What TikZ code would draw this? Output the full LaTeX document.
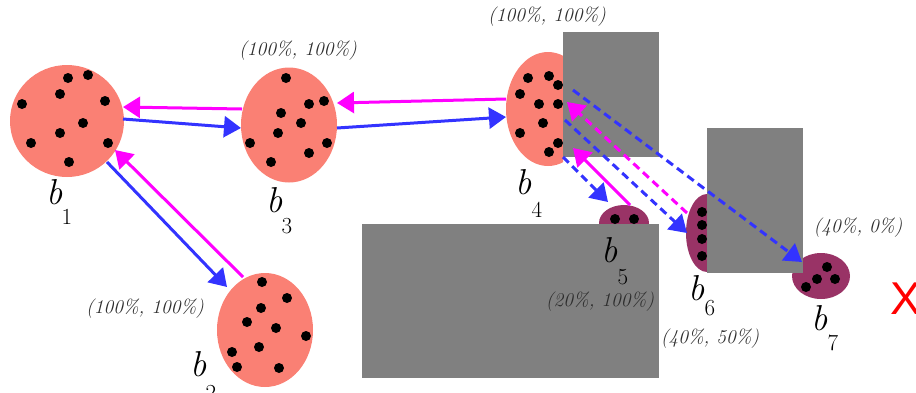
\documentclass[tikz,border=0pt]{standalone}
\usepackage{fontspec}
\newfontfamily\xfont{Liberation Sans}
\usetikzlibrary{arrows.meta,shapes.geometric}
\definecolor{salmonc}{RGB}{250,128,116}
\definecolor{maroonc}{RGB}{153,51,102}
\definecolor{greyc}{RGB}{128,128,128}
\definecolor{bluec}{RGB}{51,51,255}
\definecolor{magc}{RGB}{255,0,255}
\definecolor{labc}{RGB}{45,45,45}
\tikzset{
  blob/.style={ellipse, fill=salmonc, inner sep=0pt},
  mblob/.style={ellipse, fill=maroonc, inner sep=0pt},
  dot/.style={circle, fill=black, inner sep=0pt, minimum size=10pt},
  obst/.style={fill=greyc},
  sol/.style={line width=3pt, -{Triangle[length=17pt,width=21pt]}},
  dsh/.style={line width=3pt, dash pattern=on 8pt off 5pt, -{Triangle[length=17pt,width=21pt]}},
  bl/.style={inner sep=0pt, font=\fontsize{36}{36}\selectfont\itshape},
  sub/.style={inner sep=0pt, font=\fontsize{23}{23}\selectfont},
  pct/.style={inner sep=0pt, text=labc, font=\fontsize{19.5}{19.5}\selectfont\itshape},
}
\begin{document}
\begin{tikzpicture}[x=1pt,y=-1pt]
\useasboundingbox (0,0) rectangle (916,392);
% blobs
\node[blob, minimum width=114pt, minimum height=112pt] (b1) at (67,121) {};
\node[blob, minimum width=96pt, minimum height=115pt] (b3) at (289,125) {};
\node[blob, minimum width=96pt, minimum height=114pt] (b2) at (265,330) {};
\begin{scope}
\clip (400,0) rectangle (563,200);
\node[blob, minimum width=84pt, minimum height=114pt] (b4) at (548,109) {};
\end{scope}
\begin{scope}
\clip (590,190) rectangle (660,224);
\node[mblob, minimum width=50pt, minimum height=36pt] (b5) at (624,223) {};
\end{scope}
\begin{scope}
\clip (670,180) rectangle (707,290);
\node[mblob, minimum width=42pt, minimum height=78pt] (b6) at (707,233) {};
\end{scope}
\node[mblob, minimum width=58pt, minimum height=46pt] (b7) at (821,276) {};
% obstacles
\fill[obst] (563,32) rectangle (659,157);
\fill[obst] (707,128) rectangle (803,273);
\fill[obst] (362,224) rectangle (659,378);
% dots
\foreach \p [count=\i] in {(68,78),(88,75),(60,94),(105,101),(22,104),(83,123),(60,133),(31,143),(108,143),(69,162)}
  \node[dot] (da\i) at \p {};
\foreach \p [count=\i] in {(286,78),(309,104),(324,101),(281,113),(301,123),(278,133),(250,143),(327,143),(309,153),(271,162)}
  \node[dot] (dc\i) at \p {};
\foreach \p [count=\i] in {(262,282),(287,298),(261,308),(247,322),(276,328),(306,336),(259,347),(232,352),(237,367),(279,368)}
  \node[dot] (db\i) at \p {};
\foreach \p [count=\i] in {(528,78),(549,76),(558,85),(520,94),(539,104),(558,104),(543,123),(520,133),(558,143),(549,152)}
  \node[dot] (dd\i) at \p {};
\foreach \p [count=\i] in {(615,219),(634,219)}
  \node[dot] (de\i) at \p {};
\foreach \p [count=\i] in {(702,212),(702,225),(702,239),(702,256)}
  \node[dot] (df\i) at \p {};
\foreach \p [count=\i] in {(806,287),(817,279),(827,267),(835,279)}
  \node[dot] (dg\i) at \p {};
% arrow end points
\coordinate (p1) at (242,109); \coordinate (p2) at (123,107);
\coordinate (p3) at (123,119); \coordinate (p4) at (241,128);
\coordinate (p5) at (107,162); \coordinate (p6) at (227,287);
\coordinate (p7) at (243,277); \coordinate (p8) at (115,150);
\coordinate (p9) at (506,99);  \coordinate (p10) at (337,103);
\coordinate (p11) at (337,128); \coordinate (p12) at (506,117);
\coordinate (q1) at (573,90);  \coordinate (q2) at (802,262);
\coordinate (q3) at (565,120); \coordinate (q4) at (687,233);
\coordinate (q5) at (687,213); \coordinate (q6) at (567,102);
\coordinate (q7) at (563,157); \coordinate (q8) at (608,202);
\coordinate (q9) at (630,205); \coordinate (q10) at (573,148);
% arrows
\draw[sol, magc] (p1) -- (p2);
\draw[sol, bluec] (p3) -- (p4);
\draw[sol, bluec] (p5) -- (p6);
\draw[sol, magc] (p7) -- (p8);
\draw[sol, magc] (p9) -- (p10);
\draw[sol, bluec] (p11) -- (p12);
\draw[dsh, bluec] (q1) -- (q2);
\draw[dsh, bluec] (q3) -- (q4);
\draw[dsh, magc] (q5) -- (q6);
\draw[dsh, bluec] (q7) -- (q8);
\draw[sol, magc] (q9) -- (q10);
% labels
\node[bl] (lb1) at (55,192) {b};  \node[sub] (s1) at (67,217) {1};
\node[bl] (lb3) at (275,200) {b}; \node[sub] (s3) at (287,226) {3};
\node[bl] (lb2) at (199,364) {b}; \node[sub] (s2) at (211,393) {2};
\node[bl] (lb4) at (524,182) {b}; \node[sub] (s4) at (537,210) {4};
\node[bl] (lb5) at (610,250) {b}; \node[sub] (s5) at (623,277) {5};
\node[bl] (lb6) at (697,288) {b}; \node[sub] (s6) at (710,308) {6};
\node[bl] (lb7) at (820,318) {b}; \node[sub] (s7) at (833,343) {7};
\node[pct] (t3) at (298,51) {(100\%, 100\%)};
\node[pct] (t4) at (547,17) {(100\%, 100\%)};
\node[pct] (t2) at (145,309) {(100\%, 100\%)};
\node[pct] (t5) at (600,302) {(20\%, 100\%)};
\node[pct] (t6) at (710,339) {(40\%, 50\%)};
\node[pct] (t7) at (858,228) {(40\%, 0\%)};
\node[inner sep=0pt, text=red, font=\fontsize{46}{46}\selectfont\xfont] (x) at (906,299) {X};
\end{tikzpicture}
\end{document}
